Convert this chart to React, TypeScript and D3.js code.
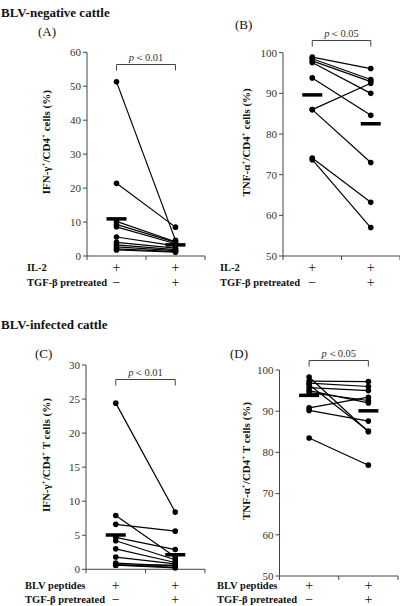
import React from 'react';
import * as d3 from 'd3';

// ---------- data ----------
const conditions = ['untreated', 'TGF-β'];

const aBefore = [51.3, 21.4, 10.2, 9.3, 8.6, 5.6, 4.0, 3.3, 2.7, 2.1, 1.8];
const aAfter = [4.6, 8.5, 4.2, 4.0, 3.6, 3.0, 2.3, 1.9, 1.6, 1.3, 1.1];
const aTicks = [0, 10, 20, 30, 40, 50, 60];

const bBefore = [98.9, 98.5, 98.0, 97.6, 93.8, 86.0, 86.0, 74.1, 73.7];
const bAfter = [96.1, 93.4, 92.9, 90.0, 84.6, 92.5, 73.0, 63.2, 57.0];
const bTicks = [50, 60, 70, 80, 90, 100];

const cBefore = [24.4, 7.9, 6.6, 4.7, 4.2, 3.0, 1.8, 0.9, 0.7, 0.6, 0.6];
const cAfter = [8.4, 1.8, 5.6, 2.9, 1.4, 1.0, 0.8, 0.5, 0.3, 0.6, 0.2];
const cTicks = [0, 5, 10, 15, 20, 25, 30];

const dBefore = [98.3, 97.3, 96.8, 96.4, 95.7, 95.0, 94.5, 90.8, 90.2, 83.5];
const dAfter = [85.0, 97.2, 96.0, 85.2, 95.0, 92.0, 92.6, 93.4, 87.6, 76.9];
const dTicks = [50, 60, 70, 80, 90, 100];

const pTexts = ['0.01', '0.05', '0.01', '0.05'];
const stimLabels = ['IL-2', 'IL-2', 'BLV peptides', 'BLV peptides'];
const stimSigns = ['+', '+'];
const tgfSigns = ['−', '+'];
const tgfLabel = 'TGF-β pretreated';
const headers = ['BLV-negative cattle', 'BLV-infected cattle'];
const panelLetters = ['(A)', '(B)', '(C)', '(D)'];
const yTitles = [
  ['IFN-γ', '/CD4', ' cells (%)'],
  ['TNF-α', '/CD4', ' cells  (%)'],
  ['IFN-γ', '/CD4', ' T cells (%)'],
  ['TNF-α', '/CD4', ' T cells (%)'],
];

const FONT = '"Liberation Serif", "Times New Roman", serif';

type PanelProps = {
  x0: number; x1: number; yTop: number; yBot: number;
  domain: [number, number]; ticks: number[];
  before: number[]; after: number[];
  letter: string; letterX: number; letterY: number;
  title: string[]; titleX: number;
  p: string; bracketY: number;
  stim: string; rowY1: number; rowGap: number; labelX: number;
};

function Panel(props: PanelProps) {
  const { x0, x1, yTop, yBot, domain, ticks, before, after } = props;
  const x = d3.scaleBand<string>().domain(conditions).range([x0, x1]).padding(0);
  const y = d3.scaleLinear().domain(domain).range([yBot, yTop]);
  const cx0 = (x(conditions[0]) as number) + x.bandwidth() / 2;
  const cx1 = (x(conditions[1]) as number) + x.bandwidth() / 2;
  const m0 = d3.mean(before) as number;
  const m1 = d3.mean(after) as number;
  const xTicks = [x0, x0 + x.bandwidth(), x1];
  const axisColor = '#444';
  const titleCenter = (yTop + yBot) / 2 - 12;
  const row2 = props.rowY1 + props.rowGap;
  return (
    <g>
      {/* y axis */}
      <line x1={x0} x2={x0} y1={yTop} y2={yBot} stroke={axisColor} strokeWidth={1} />
      {ticks.map((t) => (
        <g key={t}>
          <line x1={x0 - 4} x2={x0} y1={y(t)} y2={y(t)} stroke={axisColor} strokeWidth={1} />
          <text x={x0 - 6} y={y(t)} dy="0.35em" textAnchor="end" fontSize={11} fill="#333" fontFamily={FONT}>{t}</text>
        </g>
      ))}
      {/* x axis */}
      <line x1={x0} x2={x1} y1={yBot} y2={yBot} stroke={axisColor} strokeWidth={1} />
      {xTicks.map((t, i) => (
        <line key={i} x1={t} x2={t} y1={yBot} y2={yBot + 4} stroke={axisColor} strokeWidth={1} />
      ))}
      {/* paired lines */}
      {before.map((v, i) => (
        <line key={'l' + i} x1={cx0} x2={cx1} y1={y(v)} y2={y(after[i])} stroke="#000" strokeWidth={1.2} />
      ))}
      {before.map((v, i) => (
        <circle key={'b' + i} cx={cx0} cy={y(v)} r={2.8} fill="#000" />
      ))}
      {after.map((v, i) => (
        <circle key={'a' + i} cx={cx1} cy={y(v)} r={2.8} fill="#000" />
      ))}
      {/* mean bars */}
      <line x1={cx0 - 10} x2={cx0 + 10} y1={y(m0)} y2={y(m0)} stroke="#000" strokeWidth={3.5} />
      <line x1={cx1 - 10} x2={cx1 + 10} y1={y(m1)} y2={y(m1)} stroke="#000" strokeWidth={3.5} />
      {/* bracket */}
      <path d={`M${cx0},${props.bracketY + 6}V${props.bracketY}H${cx1}V${props.bracketY + 6}`} fill="none" stroke="#444" strokeWidth={1} />
      <text x={(cx0 + cx1) / 2} y={props.bracketY - 4} textAnchor="middle" fontSize={10.5} fill="#333" fontFamily={FONT}>
        <tspan fontStyle="italic">p</tspan>
        <tspan>{'＜' + props.p}</tspan>
      </text>
      {/* panel letter */}
      <text x={props.letterX} y={props.letterY} fontSize={13} fill="#111" fontFamily={FONT}>{props.letter}</text>
      {/* y title */}
      <text
        transform={`translate(${props.titleX},${titleCenter}) rotate(-90)`}
        textAnchor="middle"
        fontSize={11}
        fontWeight="bold"
        fill="#111"
        fontFamily={FONT}
      >
        <tspan>{props.title[0]}</tspan>
        <tspan baselineShift="super" fontSize={7}>+</tspan>
        <tspan>{props.title[1]}</tspan>
        <tspan baselineShift="super" fontSize={7}>+</tspan>
        <tspan>{props.title[2]}</tspan>
      </text>
      {/* bottom labels */}
      <text x={props.labelX} y={props.rowY1} fontSize={10.5} fontWeight="bold" fill="#111" fontFamily={FONT}>{props.stim}</text>
      <text x={props.labelX} y={row2} fontSize={10.5} fontWeight="bold" fill="#111" fontFamily={FONT}>{tgfLabel}</text>
      {stimSigns.map((s, i) => (
        <text key={'s' + i} x={i === 0 ? cx0 : cx1} y={props.rowY1 + 1} textAnchor="middle" fontSize={14} fill="#111" fontFamily={FONT}>{s}</text>
      ))}
      {tgfSigns.map((s, i) => (
        <text key={'t' + i} x={i === 0 ? cx0 : cx1} y={row2 + 1} textAnchor="middle" fontSize={14} fill="#111" fontFamily={FONT}>{s}</text>
      ))}
    </g>
  );
}

export default function App() {
  return (
    <svg width={400} height={606} style={{ position: 'absolute', left: 0, top: 0, background: '#fff' }}>
      <rect width={400} height={606} fill="#fff" />
      <text x={1} y={17} fontSize={13} fontWeight="bold" fill="#111" fontFamily={FONT}>{headers[0]}</text>
      <text x={1} y={329} fontSize={13} fontWeight="bold" fill="#111" fontFamily={FONT}>{headers[1]}</text>
      <Panel x0={87} x1={205} yTop={52.3} yBot={256} domain={[0, 60]} ticks={aTicks}
        before={aBefore} after={aAfter} letter={panelLetters[0]} letterX={38} letterY={36}
        title={yTitles[0]} titleX={50} p={pTexts[0]} bracketY={64.5}
        stim={stimLabels[0]} rowY1={271} rowGap={15} labelX={27} />
      <Panel x0={283} x1={400} yTop={52.7} yBot={256} domain={[50, 100]} ticks={bTicks}
        before={bBefore} after={bAfter} letter={panelLetters[1]} letterX={235} letterY={29}
        title={yTitles[1]} titleX={250} p={pTexts[1]} bracketY={40.5}
        stim={stimLabels[1]} rowY1={271} rowGap={15} labelX={220} />
      <Panel x0={86} x1={205} yTop={365} yBot={569.3} domain={[0, 30]} ticks={cTicks}
        before={cBefore} after={cAfter} letter={panelLetters[2]} letterX={35} letterY={358}
        title={yTitles[2]} titleX={50} p={pTexts[2]} bracketY={379.5}
        stim={stimLabels[2]} rowY1={589} rowGap={13.5} labelX={25} />
      <Panel x0={279.5} x1={398} yTop={370} yBot={576} domain={[50, 100]} ticks={dTicks}
        before={dBefore} after={dAfter} letter={panelLetters[3]} letterX={230} letterY={358}
        title={yTitles[3]} titleX={250} p={pTexts[3]} bracketY={360.5}
        stim={stimLabels[3]} rowY1={589} rowGap={13.5} labelX={217} />
    </svg>
  );
}
